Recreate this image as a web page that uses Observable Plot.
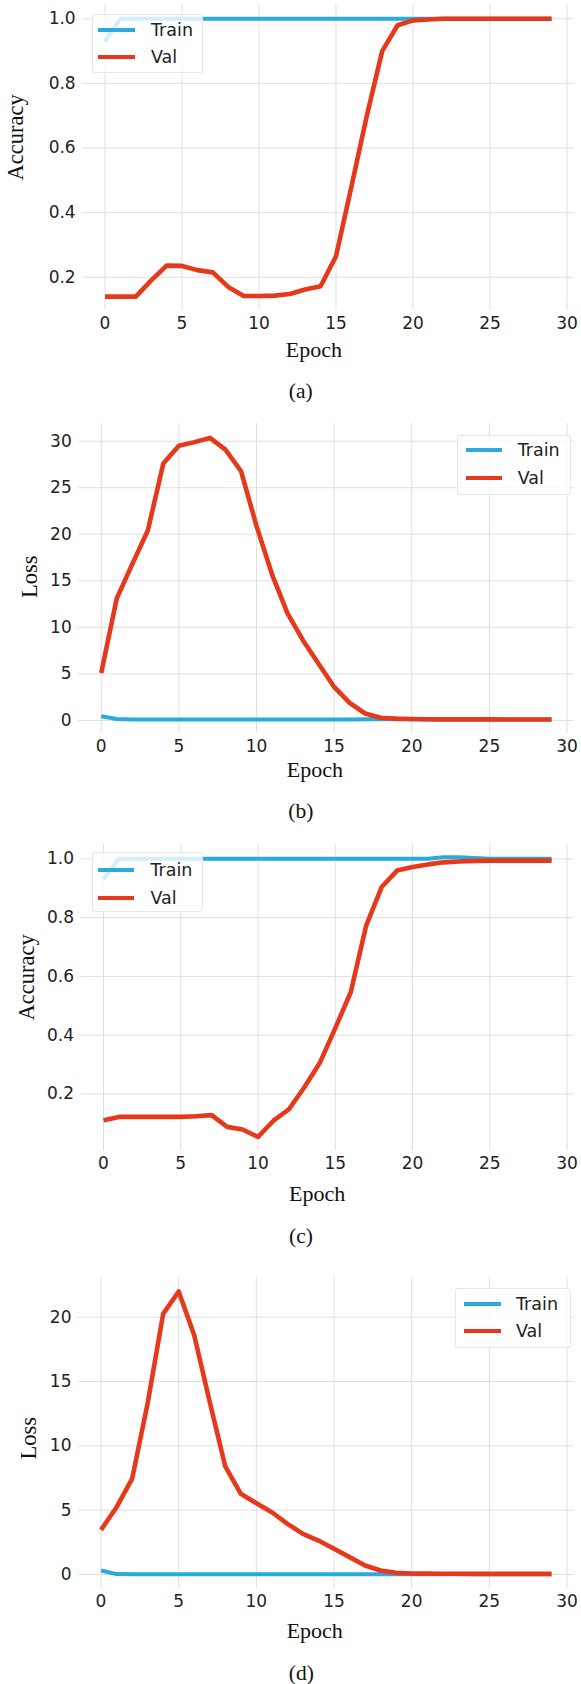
<!DOCTYPE html>
<html>
<head>
<meta charset="utf-8">
<script src="https://cdn.jsdelivr.net/npm/d3@7"></script>
<script src="https://cdn.jsdelivr.net/npm/@observablehq/plot@0.6"></script>
<style>
  html, body { margin: 0; padding: 0; background: #fff; }
  #root { width: 581px; }
  .panel { position: relative; width: 581px; overflow: hidden; }
  .panel svg { display: block; }
  .legend { position: absolute; background: rgba(255,255,255,0.8); border: 1px solid rgba(225,225,225,0.8); border-radius: 3px; box-sizing: border-box; }
  .legend .item { position: absolute; left: 0; height: 0; }
  .legend .sw { position: absolute; height: 4px; margin-top: -2px; }
  .legend .lab { position: absolute; font-family: "DejaVu Sans", sans-serif; font-size: 17.5px; line-height: 20px; margin-top: -10px; color: #222; white-space: nowrap; }
</style>
</head>
<body>
<div id="root"></div>
<script>
// ---------- data ----------
const epochs = [0,1,2,3,4,5,6,7,8,9,10,11,12,13,14,15,16,17,18,19,20,21,22,23,24,25,26,27,28,29];
const xTicks = [0, 5, 10, 15, 20, 25, 30];

const accA_train = [0.93,1.0,1.0,1.0,1.0,1.0,1.0,1.0,1.0,1.0,1.0,1.0,1.0,1.0,1.0,1.0,1.0,1.0,1.0,1.0,1.0,1.0,1.0,1.0,1.0,1.0,1.0,1.0,1.0,1.0];
const accA_val = [0.14,0.14,0.14,0.19,0.236,0.235,0.222,0.215,0.17,0.142,0.142,0.143,0.148,0.162,0.172,0.265,0.48,0.70,0.90,0.98,0.995,0.998,1.0,1.0,1.0,1.0,1.0,1.0,1.0,1.0];

const lossB_train = [0.45,0.15,0.1,0.1,0.1,0.1,0.1,0.1,0.1,0.1,0.1,0.1,0.1,0.1,0.1,0.1,0.1,0.12,0.14,0.14,0.12,0.1,0.1,0.1,0.1,0.1,0.1,0.1,0.1,0.1];
const lossB_val = [5.1,13.1,16.8,20.4,27.6,29.5,29.9,30.35,29.1,26.8,20.9,15.7,11.5,8.6,6.1,3.6,1.9,0.75,0.3,0.2,0.15,0.13,0.12,0.12,0.12,0.12,0.11,0.11,0.1,0.1];

const accC_train = [0.93,1.0,1.0,1.0,1.0,1.0,1.0,1.0,1.0,1.0,1.0,1.0,1.0,1.0,1.0,1.0,1.0,1.0,1.0,1.0,1.0,1.0,1.005,1.005,1.003,1.0,1.0,1.0,1.0,1.0];
const accC_val = [0.111,0.122,0.122,0.122,0.122,0.122,0.124,0.128,0.088,0.079,0.054,0.109,0.148,0.223,0.306,0.424,0.546,0.773,0.904,0.96,0.972,0.981,0.988,0.991,0.993,0.994,0.994,0.994,0.994,0.994];

const lossD_train = [0.31,0.03,0.02,0.02,0.02,0.02,0.02,0.02,0.02,0.02,0.02,0.02,0.02,0.02,0.02,0.02,0.02,0.02,0.02,0.02,0.02,0.02,0.02,0.02,0.02,0.02,0.02,0.02,0.02,0.02];
const lossD_val = [3.47,5.23,7.43,13.3,20.26,22.0,18.6,13.4,8.4,6.27,5.54,4.84,3.94,3.16,2.64,2.0,1.35,0.7,0.31,0.13,0.08,0.07,0.06,0.06,0.05,0.05,0.05,0.05,0.05,0.05];

const accTicks = [0.2, 0.4, 0.6, 0.8, 1.0];
const lossTicksB = [0, 5, 10, 15, 20, 25, 30];
const lossTicksD = [0, 5, 10, 15, 20];

const seriesNames = ["Train", "Val"];
const captions = ["(a)", "(b)", "(c)", "(d)"];
const yLabels = ["Accuracy", "Loss", "Accuracy", "Loss"];
const xLabel = "Epoch";

// ---------- style ----------
const TRAIN = "#2aabdb";
const VAL = "#e6391b";
const GRID = "#dfdfdf";
const SANS = "'DejaVu Sans', sans-serif";
const SERIF = "'Liberation Serif', 'Times New Roman', serif";

const panels = [
  { train: accA_train, val: accA_val, yTicks: accTicks, fmt: d3.format(".1f"), yDomain: [0.097, 1.043],
    H: 420, mT: 4.4, mB: 110, mL: 82.2, mR: 7.6,
    lab: { dx: -66.5, dy: 22.8 }, ep: { dx: -14.5, dy: 39.3 }, cap: { dx: -27.5, dy: 81 },
    leg: { left: 91.7, top: 14, w: 111, h: 59.3, sx: 5.6, sw: 36.7, tx: 58.3, y1: 15.3, y2: 42 } },
  { train: lossB_train, val: lossB_val, yTicks: lossTicksB, fmt: d3.format("d"), yDomain: [-1.4, 31.9],
    H: 420, mT: 3.0, mB: 107, mL: 78.2, mR: 7.5,
    lab: { dx: -49.4, dy: 19.5 }, ep: { dx: -11.5, dy: 36.3 }, cap: { dx: -25.5, dy: 78 },
    leg: { left: 457, top: 15, w: 113.6, h: 60, sx: 7.7, sw: 36.3, tx: 59.7, y1: 14.3, y2: 41.7 } },
  { train: accC_train, val: accC_val, yTicks: accTicks, fmt: d3.format(".1f"), yDomain: [0.007, 1.047],
    H: 420, mT: 4.5, mB: 109.8, mL: 80.6, mR: 7.5,
    lab: { dx: -54.8, dy: 22.6 }, ep: { dx: -10.5, dy: 43.1 }, cap: { dx: -26.5, dy: 85.5 },
    leg: { left: 92, top: 12, w: 110.6, h: 59.7, sx: 5.4, sw: 35.6, tx: 57.4, y1: 17, y2: 44.7 } },
  { train: lossD_train, val: lossD_val, yTicks: lossTicksD, fmt: d3.format("d"), yDomain: [-1.08, 23.1],
    H: 424, mT: 16.8, mB: 96.1, mL: 78, mR: 7.5,
    lab: { dx: -50, dy: 26.6 }, ep: { dx: -11.5, dy: 42.1 }, cap: { dx: -25, dy: 84.5 },
    leg: { left: 455, top: 28.3, w: 115.6, h: 60, sx: 7.7, sw: 37.3, tx: 60, y1: 14.4, y2: 41.7 } }
];

const root = document.getElementById("root");

panels.forEach((p, i) => {
  const rows = [];
  epochs.forEach((e, k) => rows.push({ epoch: e, value: p.train[k], series: seriesNames[0] }));
  epochs.forEach((e, k) => rows.push({ epoch: e, value: p.val[k], series: seriesNames[1] }));

  const chart = Plot.plot({
    width: 581,
    height: p.H,
    marginTop: p.mT,
    marginBottom: p.mB,
    marginLeft: p.mL,
    marginRight: p.mR,
    style: { background: "transparent", overflow: "visible" },
    x: { domain: [-1.45, 30.45] },
    y: { domain: p.yDomain },
    marks: [
      Plot.gridX(xTicks, { stroke: GRID, strokeOpacity: 1, strokeWidth: 1 }),
      Plot.gridY(p.yTicks, { stroke: GRID, strokeOpacity: 1, strokeWidth: 1 }),
      Plot.line(rows.filter(r => r.series === "Train"), { x: "epoch", y: "value", stroke: TRAIN, strokeWidth: 4, strokeLinejoin: "round", strokeLinecap: "butt" }),
      Plot.line(rows.filter(r => r.series === "Val"), { x: "epoch", y: "value", stroke: VAL, strokeWidth: 4.6, strokeLinejoin: "round", strokeLinecap: "butt" }),
      Plot.axisX({ ticks: xTicks, tickSize: 0, tickPadding: 6.5, label: null, fontSize: 17, fontFamily: SANS, fill: "#222" }),
      Plot.axisY({ ticks: p.yTicks, tickFormat: p.fmt, tickSize: 0, tickPadding: 7, label: null, fontSize: 17, fontFamily: SANS, fill: "#222" }),
      Plot.text([yLabels[i]], { frameAnchor: "left", rotate: -90, dx: p.lab.dx, dy: p.lab.dy, fontSize: 22.5, fontFamily: SERIF, fill: "#111", text: d => d }),
      Plot.text([xLabel], { frameAnchor: "bottom", dx: p.ep.dx, dy: p.ep.dy, fontSize: 22, fontFamily: SERIF, fill: "#111", lineAnchor: "middle", text: d => d }),
      Plot.text([captions[i]], { frameAnchor: "bottom", dx: p.cap.dx, dy: p.cap.dy, fontSize: 21.5, fontFamily: SERIF, fill: "#111", lineAnchor: "middle", text: d => d })
    ]
  });

  const wrap = document.createElement("div");
  wrap.className = "panel";
  wrap.style.height = p.H + "px";
  wrap.appendChild(chart);

  const L = p.leg;
  const leg = document.createElement("div");
  leg.className = "legend";
  leg.style.left = L.left + "px";
  leg.style.top = L.top + "px";
  leg.style.width = L.w + "px";
  leg.style.height = L.h + "px";
  [[seriesNames[0], TRAIN, L.y1], [seriesNames[1], VAL, L.y2]].forEach(([name, color, y]) => {
    const it = document.createElement("div");
    it.className = "item";
    it.style.top = y + "px";
    const sw = document.createElement("div");
    sw.className = "sw";
    sw.style.left = L.sx + "px";
    sw.style.width = L.sw + "px";
    sw.style.background = color;
    const lab = document.createElement("div");
    lab.className = "lab";
    lab.style.left = L.tx + "px";
    lab.textContent = name;
    it.appendChild(sw);
    it.appendChild(lab);
    leg.appendChild(it);
  });
  wrap.appendChild(leg);
  root.appendChild(wrap);
});
</script>
</body>
</html>
